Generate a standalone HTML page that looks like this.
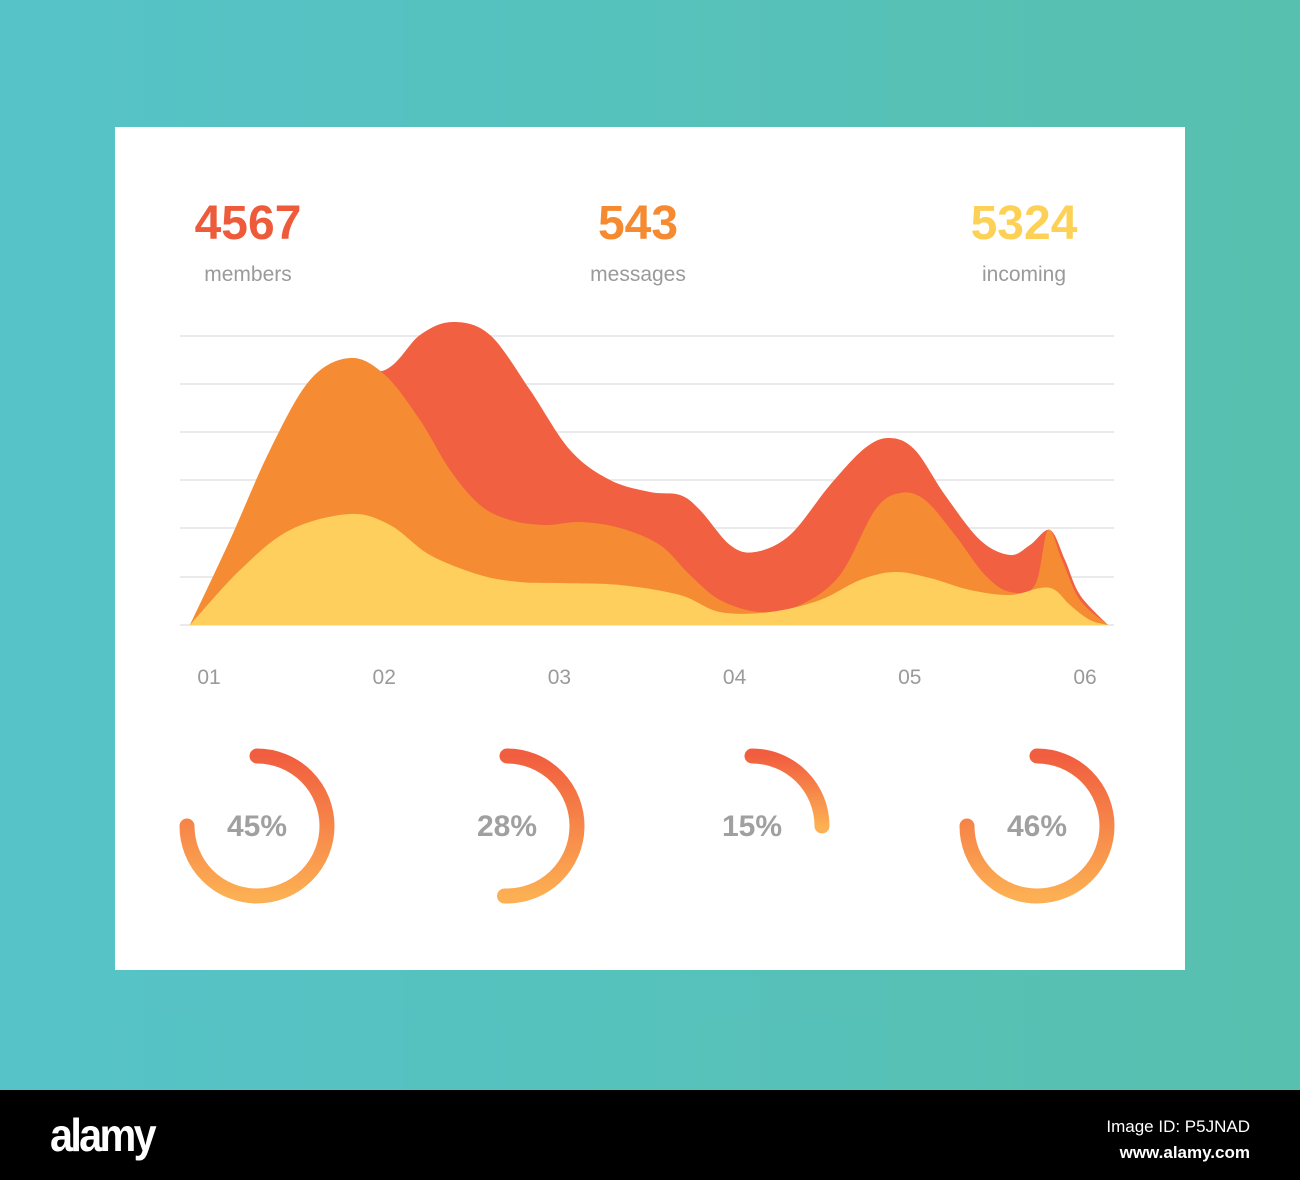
<!DOCTYPE html>
<html><head><meta charset="utf-8"><style>
body{margin:0;width:1300px;height:1180px;overflow:hidden;font-family:"Liberation Sans",sans-serif;background:linear-gradient(90deg,#56c3c9,#57c0ae);position:relative}
.card{position:absolute;left:115px;top:127px;width:1070px;height:843px;background:#fff}
.stat{position:absolute;width:300px;text-align:center}
.num{font-size:48px;font-weight:bold;line-height:1}
.lab{font-size:21px;color:#9a9a9a;margin-top:15px}
.bar{position:absolute;left:0;top:1090px;width:1300px;height:90px;background:#000;color:#fff}
</style></head><body>
<div class="card"></div>
<div class="stat" style="left:98px;top:200px"><div class="num" style="color:#ee5b3b">4567</div><div class="lab">members</div></div>
<div class="stat" style="left:488px;top:200px"><div class="num" style="color:#f58a30">543</div><div class="lab">messages</div></div>
<div class="stat" style="left:874px;top:200px"><div class="num" style="color:#fdd056">5324</div><div class="lab">incoming</div></div>
<svg id="chart" width="1300" height="1180" style="position:absolute;left:0;top:0">
<defs><linearGradient id="dg" x1="0" y1="0" x2="0" y2="1"><stop offset="0" stop-color="#f15e3f"/><stop offset="1" stop-color="#fcaf53"/></linearGradient></defs>
</svg>
<div class="bar">
<div style="position:absolute;left:50px;top:18px;font-size:46px;font-weight:bold;letter-spacing:-3px;transform:scaleX(0.9);transform-origin:left">alamy</div>
<div style="position:absolute;right:50px;top:24px;font-size:17px;text-align:right;line-height:26px">Image ID: P5JNAD<br><b>www.alamy.com</b></div>
</div>
<script>
const xTicks=["01","02","03","04","05","06"];
const gridVals=[0,48,97,145,193,241,289];
const redX=[0,70,140,195,230,263,300,340,380,420,460,490,510,540,565,600,640,675,700,725,755,790,820,840,860,875,890,918];
const redY=[0,135,250,255,290,303,290,235,175,145,133,130,115,80,73,90,140,177,187,175,130,85,70,80,95,65,30,0];
const orX=[0,40,80,120,160,195,230,260,290,320,355,390,430,470,500,530,570,610,650,685,710,735,765,795,820,845,858,872,890,918];
const orY=[0,85,175,245,267,250,205,155,120,105,100,103,97,80,50,25,13,20,50,115,132,125,90,50,33,40,95,65,25,0];
const yeX=[0,50,100,160,200,240,290,330,370,430,490,530,580,630,670,705,740,780,820,850,865,880,900,918];
const yeY=[0,55,95,111,100,70,50,43,42,40,30,13,13,25,45,53,47,35,30,37,35,20,5,0];
const donutVals=["45%","28%","15%","46%"];
const donutSweep=[270,182,90,270];
const svg=document.getElementById('chart');const NS='http://www.w3.org/2000/svg';
const X0=190,Y0=625;
const sx=v=>X0+v, sy=v=>Y0-v;
function mk(t,a){const e=document.createElementNS(NS,t);for(const k in a)e.setAttribute(k,a[k]);svg.appendChild(e);return e;}
gridVals.forEach((g,i)=>{const l=mk('line',{x1:180,x2:1114,y1:sy(g),y2:sy(g),stroke:'#e3e3e6','stroke-width':1.5});

});
function path(xs,ys){const p=xs.map((x,i)=>[sx(x),sy(ys[i])]);let d=`M${p[0][0]},${p[0][1]}`;
for(let i=0;i<p.length-1;i++){const a=p[i-1]||p[i],b=p[i],c=p[i+1],e=p[i+2]||c;
d+=` C${b[0]+(c[0]-a[0])/6},${b[1]+(c[1]-a[1])/6} ${c[0]-(e[0]-b[0])/6},${c[1]-(e[1]-b[1])/6} ${c[0]},${c[1]}`;}
return d+` L${p[p.length-1][0]},${Y0} L${p[0][0]},${Y0}Z`;}
[[redX,redY,'#f06041','red-series'],[orX,orY,'#f58b33','orange-series'],[yeX,yeY,'#fecf5c','yellow-series']].forEach(s=>{
const e=mk('path',{d:path(s[0],s[1]),fill:s[2]});

});
xTicks.forEach((t,i)=>{const e=mk('text',{x:209+i*175.2,y:684,'text-anchor':'middle','font-size':21,fill:'#9a9a9a','font-family':'Liberation Sans'});e.textContent=t;

});
const dcx=[257,507,752,1037];
donutVals.forEach((v,i)=>{const cx=dcx[i],cy=826,r=70,a=donutSweep[i]*Math.PI/180;
const ex=cx+r*Math.sin(a),ey=cy-r*Math.cos(a);
const e=mk('path',{d:`M${cx},${cy-r} A${r},${r} 0 ${donutSweep[i]>180?1:0} 1 ${ex},${ey}`,fill:'none',stroke:'url(#dg)','stroke-width':15,'stroke-linecap':'round'});


const t=mk('text',{x:cx,y:cy+10,'text-anchor':'middle','font-size':30,'font-weight':'bold',fill:'#a0a0a0','font-family':'Liberation Sans'});t.textContent=v;

});
</script>
</body></html>
